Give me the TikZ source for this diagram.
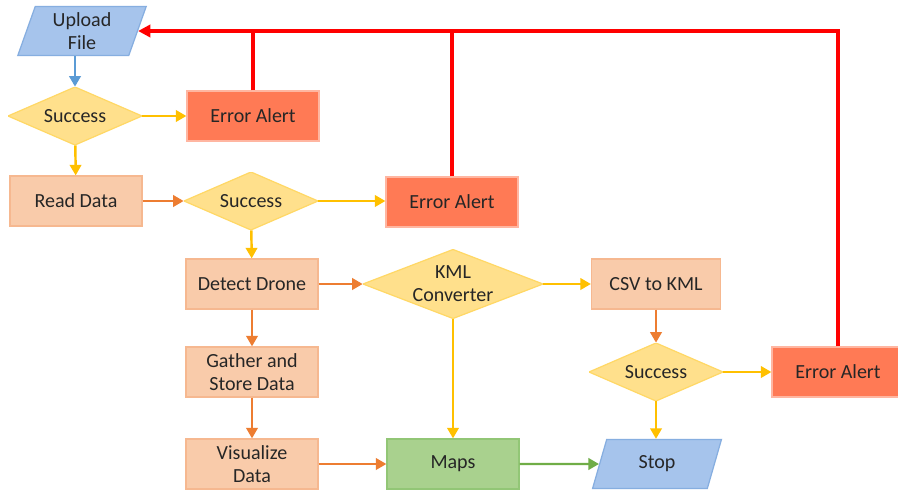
\documentclass[tikz,border=0pt]{standalone}
\usepackage{fontspec}
\setmainfont{Carlito}
\usepackage{xcolor}
\usepackage{tikz}
\usetikzlibrary{arrows.meta,shapes.geometric}
\definecolor{pblue}{HTML}{A6C4EC}
\definecolor{pblueline}{HTML}{86AEE0}
\definecolor{pgold}{HTML}{FFE08C}
\definecolor{pgoldline}{HTML}{FFD866}
\definecolor{ppeach}{HTML}{F9CBAA}
\definecolor{ppeachline}{HTML}{F6B890}
\definecolor{perr}{HTML}{FF7A55}
\definecolor{pgreen}{HTML}{A9D18E}
\definecolor{pgreenline}{HTML}{92C676}
\definecolor{ptext}{HTML}{262626}
\definecolor{ablue}{HTML}{5B9BD5}
\definecolor{ayellow}{HTML}{FFC000}
\definecolor{aorange}{HTML}{ED7D31}
\definecolor{agreen}{HTML}{70AD47}
\definecolor{ared}{HTML}{FF0000}

\begin{document}
\begin{tikzpicture}[x=0.02cm,y=-0.02cm,
    font=\fontsize{11.4}{13}\selectfont,
    box/.style={rectangle,fill=ppeach,draw=ppeachline,line width=0.7pt,
      minimum width=2.64cm,minimum height=1cm,inner sep=1pt,
      align=center,text=ptext},
    alert/.style={box,fill=perr,draw=perr!55!white},
    mapbox/.style={box,fill=pgreen,draw=pgreenline},
    decide/.style={minimum width=2.68cm,minimum height=1.16cm,inner sep=0pt,
      align=center,text=ptext,
      path picture={\draw[fill=pgold,draw=pgoldline,line width=0.7pt]
        (path picture bounding box.north) -- (path picture bounding box.east)
        -- (path picture bounding box.south) -- (path picture bounding box.west)
        -- cycle;}},
    io/.style={trapezium,trapezium left angle=74,trapezium right angle=106,
      trapezium stretches=true,minimum width=2.58cm,minimum height=0.98cm,
      inner sep=1pt,fill=pblue,draw=pblueline,line width=0.7pt,
      align=center,text=ptext},
    flow/.style={line width=1.4pt,-{Triangle[length=6pt,width=6.5pt]}},
    back/.style={ared,line width=1.8pt}]
  \useasboundingbox[fill=white] (0,0) rectangle (898,490);

  % nodes
  \node[io] (up) at (82,31) {Upload\\File};
  \node[decide] (s1) at (75,116) {Success};
  \node[alert] (err1) at (253,116) {Error Alert};
  \node[box] (read) at (76,201) {Read Data};
  \node[decide] (s2) at (251,201) {Success};
  \node[alert] (err2) at (452,202) {Error Alert};
  \node[box] (detect) at (252,284) {Detect Drone};
  \node[decide,minimum width=3.6cm,minimum height=1.38cm] (kml) at (453,284) {KML\\Converter};
  \node[box,minimum width=2.58cm] (csv) at (656,284) {CSV to KML};
  \node[box] (gather) at (252,372) {Gather and\\Store Data};
  \node[decide] (s3) at (656,372) {Success};
  \node[alert] (err3) at (838,372) {Error Alert};
  \node[box] (vis) at (252,464) {Visualize\\Data};
  \node[mapbox] (maps) at (453,464) {Maps};
  \node[io] (stop) at (657,464) {Stop};

  % flow
  \draw[flow,ablue] (up.south -| s1.north) -- (s1.north);
  \draw[flow,ayellow] (s1) -- (err1);
  \draw[flow,ayellow] (s1) -- (read);
  \draw[flow,aorange] (read) -- (s2);
  \draw[flow,ayellow] (s2.east) -- (s2.east -| err2.west);
  \draw[flow,ayellow] (s2) -- (detect);
  \draw[flow,aorange] (detect) -- (kml);
  \draw[flow,ayellow] (kml) -- (csv);
  \draw[flow,ayellow] (kml) -- (maps);
  \draw[flow,aorange] (detect) -- (gather);
  \draw[flow,aorange] (gather) -- (vis);
  \draw[flow,aorange] (vis) -- (maps);
  \draw[flow,agreen] (maps) -- (stop);
  \draw[flow,aorange] (csv) -- (s3);
  \draw[flow,ayellow] (s3) -- (err3);
  \draw[flow,ayellow] (s3) -- (stop.north -| s3.south);

  % error feedback
  \draw[back,-{Triangle[length=7pt,width=7pt]}] (err3.north) |- (up.east);
  \draw[back] (err1.north) -- (err1.north |- up.east);
  \draw[back] (err2.north) -- (err2.north |- up.east);
\end{tikzpicture}
\end{document}
